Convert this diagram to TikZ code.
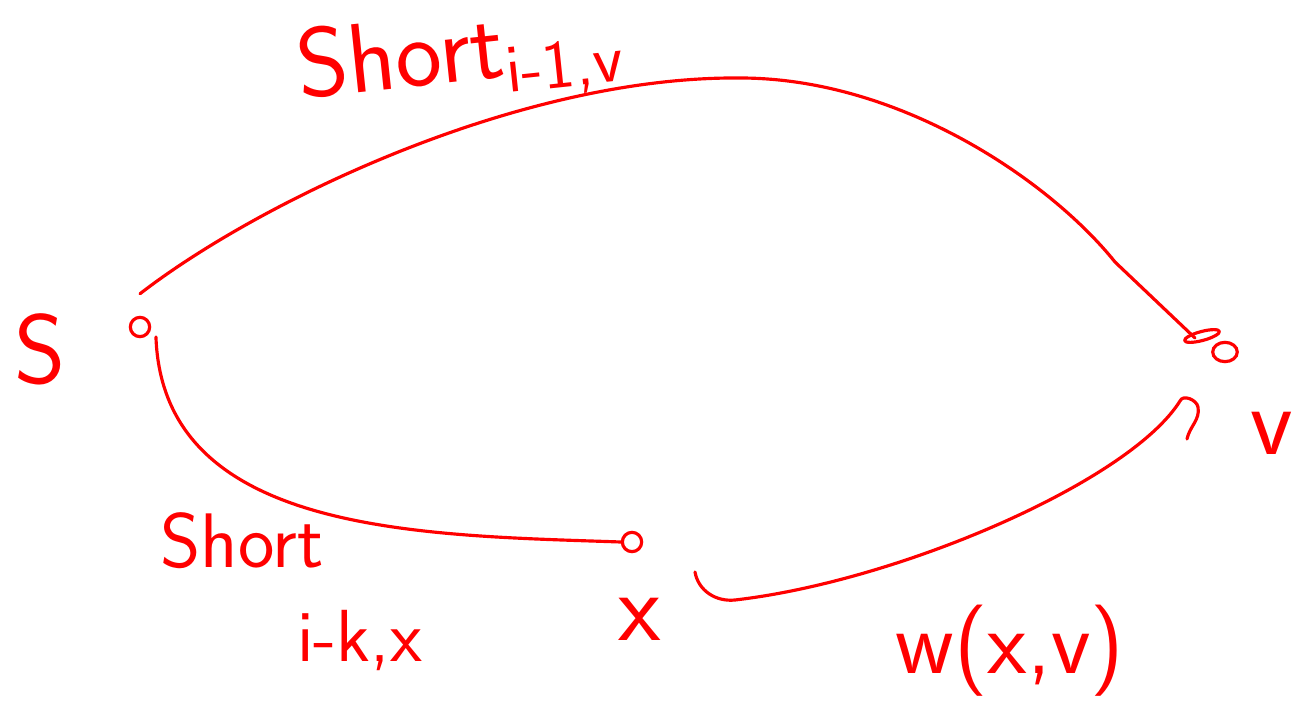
\documentclass[tikz,border=0pt]{standalone}
\usepackage{amsmath}
\usepackage[dvipsnames,svgnames]{xcolor}
\usetikzlibrary{arrows.meta,positioning,calc,shapes.geometric}
\definecolor{penred}{RGB}{255,0,0}
\tikzset{
  pen/.style={penred, line width=0.9pt, line cap=round, line join=round},
  vert/.style={circle, draw=penred, line width=0.9pt, minimum size=5.5pt, inner sep=0pt},
  ink/.style={penred, font=\sffamily\fontsize{#1}{#1}\selectfont}
}

\begin{document}
\begin{tikzpicture}
  \useasboundingbox (0,0) rectangle (12.95,7.01);
  % Vertices
  \node[vert] (s) at (1.40,3.74) {};
  \node[vert,ellipse,minimum width=7pt,minimum height=5.5pt] (v) at (12.25,3.49) {};
  \node[vert] (x) at (6.32,1.59) {};
  % Labels of vertices
  \node[ink=28] (slab) at (0.40,3.52) {S};
  \node[ink=28] (vlab) at (12.72,2.68) {v};
  \node[ink=28] (xlab) at (6.40,0.82) {x};
  % Path s -> v on top
  \coordinate (top) at (7.40,6.23);
  \coordinate (vin) at (11.95,3.63);
  \draw[pen] (s.north) ++(0,0.22) .. controls (2.6,5.0) and (5.2,6.25) .. (top)
    .. controls (9.0,6.23) and (10.5,5.2) .. (11.15,4.39) -- (vin);
  \draw[pen,rotate around={15:(12.02,3.65)}] (12.02,3.65) ellipse (0.18 and 0.045);
  \node[ink=28,rotate=6] (shortv) at (4.60,6.42) {Short$_{\textsf{i-1,v}}$};
  % Path s -> x below
  \draw[pen] (s.south east) ++(0.08,-0.02) to[out=-88,in=178] (x.west);
  \node[ink=22,anchor=west] (shortx) at (1.48,1.60) {Short};
  \node[ink=21,anchor=west] (subx) at (2.85,0.60) {i-k,x};
  % Edge x -> v
  \coordinate (xout) at (6.95,1.29);
  \coordinate (vhook) at (11.80,3.00);
  \draw[pen] (xout) to[out=-80,in=186] (7.35,1.01)
    .. controls (9.0,1.2) and (11.3,2.2) .. (vhook)
    to[out=68,in=100] (11.98,2.94) to[out=-80,in=78] (11.87,2.62);
  \node[ink=26] (wlab) at (10.10,0.50) {w(x,v)};
\end{tikzpicture}
\end{document}
